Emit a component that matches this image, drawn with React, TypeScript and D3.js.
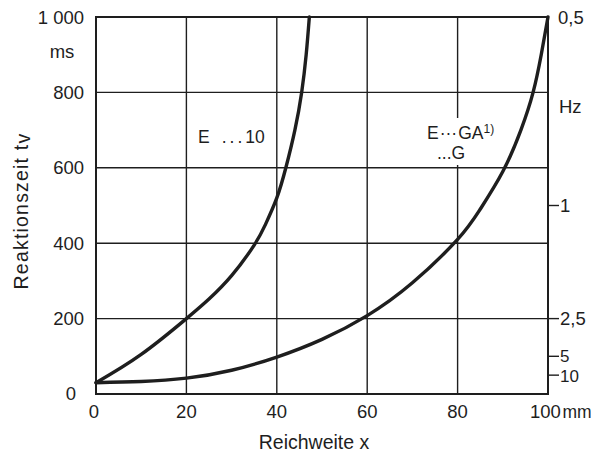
import React from "react";
import * as d3 from "d3";

// Reaction time t_V (ms) over range x (mm) for two sensor types
const rangeA = [0, 10, 20, 25, 30, 35, 37.5, 40, 42, 44, 45.5, 46.5, 47.2];
const timeA = [30, 105, 200, 252, 314, 395, 450, 520, 600, 700, 800, 900, 1000];

const rangeB = [0, 10, 20, 30, 40, 50, 60, 70, 80, 85, 90, 94, 96.7, 98.5, 100];
const timeB = [30, 33, 42, 63, 98, 145, 208, 295, 410, 490, 590, 700, 800, 900, 1000];

const xTicks = [0, 20, 40, 60, 80, 100];
const yTicks = [0, 200, 400, 600, 800, 1000];
const yTickLabels = ["0", "200", "400", "600", "800", "1 000"];
const hzTicks = [0.5, 1, 2.5, 5, 10];
const hzTickLabels = ["0,5", "1", "2,5", "5", "10"];

const W = 591;
const H = 456;
const ink = "#1e1e1e";
const font = "'Liberation Sans', Arial, sans-serif";

export default function App() {
  const x = d3.scaleLinear().domain([0, 100]).range([96, 548]);
  const y = d3.scaleLinear().domain([0, 1000]).range([394, 17]);
  // switching frequency corresponding to a reaction time: f = 500 / t
  const hzToMs = (f: number) => 500 / f;

  const line = d3
    .line<[number, number]>()
    .x((d) => x(d[0]))
    .y((d) => y(d[1]))
    .curve(d3.curveNatural);

  const ptsA = rangeA.map((r, i) => [r, timeA[i]] as [number, number]);
  const ptsB = rangeB.map((r, i) => [r, timeB[i]] as [number, number]);

  const [x0, x1] = x.range();
  const [y0, y1] = y.range();

  return (
    <svg
      width={W}
      height={H}
      style={{ position: "absolute", left: 0, top: 0, background: "#fff" }}
      fontFamily={font}
      fill={ink}
    >
      <rect width={W} height={H} fill="#fff" />

      {/* grid */}
      {xTicks.slice(1, -1).map((t) => (
        <line key={"gx" + t} x1={x(t)} x2={x(t)} y1={y1} y2={y0} stroke={ink} strokeWidth={1.4} />
      ))}
      {yTicks.slice(1, -1).map((t) => (
        <line key={"gy" + t} x1={x0} x2={x1} y1={y(t)} y2={y(t)} stroke={ink} strokeWidth={1.4} />
      ))}

      {/* right-hand frequency ticks */}
      {hzTicks.slice(1).map((f) => (
        <line
          key={"hz" + f}
          x1={x1}
          x2={x1 + 11}
          y1={y(hzToMs(f))}
          y2={y(hzToMs(f))}
          stroke={ink}
          strokeWidth={1.4}
        />
      ))}

      {/* frame */}
      <rect x={x0} y={y1} width={x1 - x0} height={y0 - y1} fill="none" stroke={ink} strokeWidth={2} />

      {/* label backing breaks the 80 mm grid line */}
      <rect x={424} y={118} width={68} height={47} fill="#fff" />

      {/* curves */}
      <path d={line(ptsA) || ""} fill="none" stroke={ink} strokeWidth={3.4} strokeLinecap="round" />
      <path d={line(ptsB) || ""} fill="none" stroke={ink} strokeWidth={3.4} strokeLinecap="round" />

      {/* left axis labels */}
      {yTicks.map((t, i) => (
        <text
          key={"yl" + t}
          x={t === 0 ? 76 : 84}
          y={y(t) + (t === 0 ? 6 : 6.5)}
          textAnchor="end"
          fontSize={18.5}
        >
          {yTickLabels[i]}
        </text>
      ))}
      <text x={62} y={58} textAnchor="middle" fontSize={18.5}>
        ms
      </text>

      {/* bottom axis labels */}
      {xTicks.map((t) =>
        t === 100 ? (
          <text key={"xl" + t} x={x(t) - 18} y={418} fontSize={18.5}>
            100
            <tspan dx={1.5} fontSize={17.5}>mm</tspan>
          </text>
        ) : (
          <text key={"xl" + t} x={x(t) - (t === 0 ? 2 : 0)} y={418} textAnchor="middle" fontSize={18.5}>
            {t}
          </text>
        )
      )}

      {/* right axis labels */}
      {hzTicks.map((f, i) => {
        const small = f >= 5;
        const shift = f === 5 ? 5.5 : f === 10 ? 6.8 : 6.5;
        return (
          <text
            key={"hl" + f}
            x={f === 0.5 ? 558 : 560}
            y={y(hzToMs(f)) + shift}
            fontSize={small ? 17 : 18.5}
          >
            {hzTickLabels[i]}
          </text>
        );
      })}
      <text x={559} y={113} fontSize={18.5}>
        Hz
      </text>

      {/* axis titles */}
      <text x={314} y={449} textAnchor="middle" fontSize={19.5}>
        Reichweite x
      </text>
      <text
        transform="translate(28,211) rotate(-90)"
        textAnchor="middle"
        fontSize={19.5}
        letterSpacing={1.2}
      >
        Reaktionszeit t<tspan dy={2}>v</tspan>
      </text>

      {/* curve annotations */}
      <text x={198} y={143} fontSize={17.5}>
        E
        <tspan dx={12} letterSpacing={3}>...</tspan>
        <tspan dx={0}>10</tspan>
      </text>
      <text x={427} y={139} fontSize={17.5}>
        E
        <tspan dx={1}>···</tspan>
        <tspan dx={1}>GA</tspan>
        <tspan dy={-6} fontSize={12}>1)</tspan>
      </text>
      <text x={437} y={159} fontSize={17.5}>
        ...G
      </text>
    </svg>
  );
}
